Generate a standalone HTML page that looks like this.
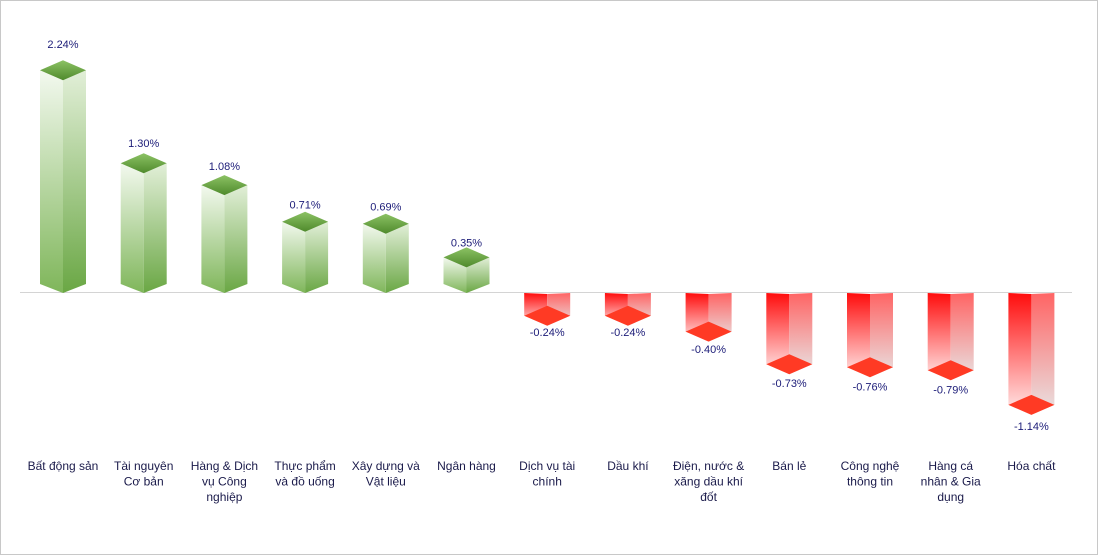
<!DOCTYPE html>
<html><head><meta charset="utf-8"><style>
html,body{margin:0;padding:0;background:#fff}
svg{display:block}
text{font-family:"Liberation Sans",Arial,sans-serif}
</style></head><body>
<svg id="s" width="1098" height="555" xmlns="http://www.w3.org/2000/svg">
<defs>
<linearGradient id="gf" x1="0" y1="0" x2="0" y2="1"><stop offset="0" stop-color="#f3f9ef"/><stop offset="1" stop-color="#7fb65a"/></linearGradient>
<linearGradient id="gs" x1="0" y1="0" x2="0" y2="1"><stop offset="0" stop-color="#e2efd8"/><stop offset="1" stop-color="#6aa744"/></linearGradient>
<linearGradient id="gt" x1="0" y1="0" x2="0" y2="1"><stop offset="0" stop-color="#8cc264"/><stop offset="1" stop-color="#4f8a2c"/></linearGradient>
<linearGradient id="rf" x1="0" y1="0" x2="0" y2="1"><stop offset="0" stop-color="#ff0c0c"/><stop offset="1" stop-color="#ffecec"/></linearGradient>
<linearGradient id="rs" x1="0" y1="0" x2="0" y2="1"><stop offset="0" stop-color="#ff6464"/><stop offset="1" stop-color="#e8e4e4"/></linearGradient>
</defs>
<rect x="0.5" y="0.5" width="1097" height="554" fill="#fff" stroke="#c8c8c8"/>
<line x1="20" y1="292.5" x2="1072" y2="292.5" stroke="#d4d4d4" stroke-width="1"/>
<g id="g"></g>
</svg>
<script>
var d=[[2.24,["Bất động sản"]],[1.30,["Tài nguyên","Cơ bản"]],[1.08,["Hàng & Dịch","vụ Công","nghiệp"]],[0.71,["Thực phẩm","và đồ uống"]],[0.69,["Xây dựng và","Vật liệu"]],[0.35,["Ngân hàng"]],[-0.24,["Dịch vụ tài","chính"]],[-0.24,["Dầu khí"]],[-0.40,["Điện, nước &","xăng dầu khí","đốt"]],[-0.73,["Bán lẻ"]],[-0.76,["Công nghệ","thông tin"]],[-0.79,["Hàng cá","nhân & Gia","dụng"]],[-1.14,["Hóa chất"]]];
var h='',z=292,k=99,w=23,dh=10;
d.forEach(function(e,i){
var v=e[0],cx=63+i*80.7,y=z-v*k;
var lbl=v.toFixed(2)+'%';
if(v>0){
 h+='<polygon points="'+(cx-w)+','+y+' '+cx+','+(y+dh)+' '+cx+','+(z+1)+' '+(cx-w)+','+(z-8)+'" fill="url(#gf)"/>';
 h+='<polygon points="'+cx+','+(y+dh)+' '+(cx+w)+','+y+' '+(cx+w)+','+(z-8)+' '+cx+','+(z+1)+'" fill="url(#gs)"/>';
 h+='<polygon points="'+(cx-w)+','+y+' '+cx+','+(y-dh)+' '+(cx+w)+','+y+' '+cx+','+(y+dh)+'" fill="url(#gt)"/>';
 h+='<text x="'+cx+'" y="'+(283-104.8*v)+'" font-size="11" fill="#1c1c78" text-anchor="middle">'+lbl+'</text>';
}else{
 h+='<polygon points="'+(cx-w)+','+(z+1)+' '+cx+','+(z+2)+' '+cx+','+(y+dh)+' '+(cx-w)+','+y+'" fill="url(#rf)"/>';
 h+='<polygon points="'+cx+','+(z+2)+' '+(cx+w)+','+(z+1)+' '+(cx+w)+','+y+' '+cx+','+(y+dh)+'" fill="url(#rs)"/>';
 h+='<polygon points="'+(cx-w)+','+y+' '+cx+','+(y-dh)+' '+(cx+w)+','+y+' '+cx+','+(y+dh)+'" fill="#ff3a24"/>';
 h+='<text x="'+cx+'" y="'+(311-104.4*v)+'" font-size="11" fill="#1c1c78" text-anchor="middle">'+lbl+'</text>';
}
e[1].forEach(function(t,j){h+='<text x="'+cx+'" y="'+(470+j*15.5)+'" font-size="12" fill="#1a1a4a" text-anchor="middle">'+t+'</text>';});
});
document.getElementById('g').innerHTML=h;
</script>
</body></html>
